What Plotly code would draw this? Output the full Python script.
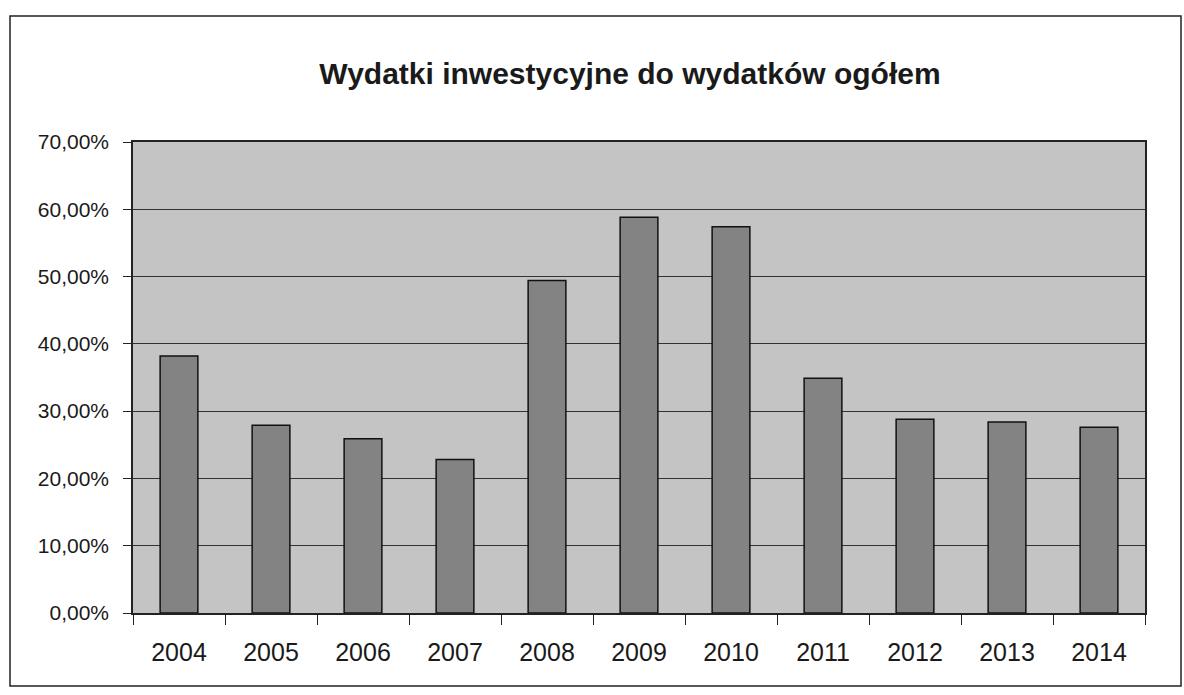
import plotly.graph_objects as go

years = ["2004", "2005", "2006", "2007", "2008", "2009", "2010", "2011", "2012", "2013", "2014"]
shares = [38.2, 27.9, 25.9, 22.8, 49.4, 58.8, 57.4, 34.9, 28.8, 28.4, 27.6]
y_ticks = [0, 10, 20, 30, 40, 50, 60, 70]
y_tick_labels = ["0,00%", "10,00%", "20,00%", "30,00%", "40,00%", "50,00%", "60,00%", "70,00%"]

W, H = 1184, 695
L, R, T, B = 133, 39, 142, 82
pw, ph = W - L - R, H - T - B

def px(x):
    return (x - L) / pw

def py(y):
    return (H - B - y) / ph

fig = go.Figure(go.Bar(
    x=years, y=shares,
    marker=dict(color="#838383", line=dict(color="#111111", width=1.5)),
    width=0.41,
))

fig.update_layout(
    width=W, height=H,
    margin=dict(l=L, r=R, t=T, b=B),
    paper_bgcolor="white",
    plot_bgcolor="#c4c4c4",
    showlegend=False,
    font=dict(family="Arial, Liberation Sans, sans-serif", color="#1a1a1a"),
    title=dict(
        text="<b>Wydatki inwestycyjne do wydatków ogółem</b>",
        xref="container", x=630 / W, xanchor="center",
        yref="container", y=1 - 73 / H, yanchor="middle",
        font=dict(size=30, color="#1a1a1a"),
    ),
)

fig.update_yaxes(
    range=[0, 70], tickvals=y_ticks, ticktext=y_tick_labels,
    showgrid=True, gridcolor="#333333", gridwidth=1,
    showline=True, linecolor="#222222", linewidth=1.5, mirror=True,
    ticks="outside", ticklen=8, tickcolor="#222222",
    tickfont=dict(size=21), zeroline=False, ticklabelstandoff=10,
)
fig.update_xaxes(
    showline=True, linecolor="#222222", linewidth=1.5, mirror=True,
    ticks="outside", ticklen=10, tickcolor="#222222", tickson="boundaries",
    tickfont=dict(size=25), showgrid=False, ticklabelstandoff=16,
)

fig.add_shape(
    type="rect", xref="paper", yref="paper",
    x0=px(10), x1=px(1181), y0=py(686), y1=py(16),
    line=dict(color="#222222", width=1.5), fillcolor="rgba(0,0,0,0)",
    layer="below",
)

fig.write_html(
    "out.html",
    config={"displayModeBar": False},
    post_script="document.body.style.margin='0';",
)
